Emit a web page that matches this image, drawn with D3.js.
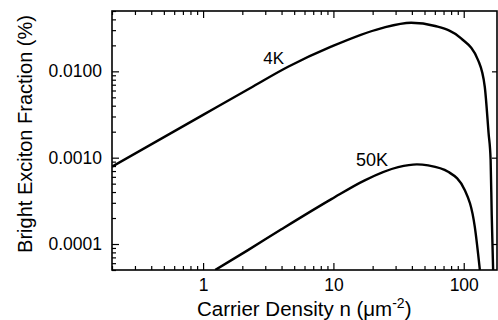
<!DOCTYPE html>
<html>
<head>
<meta charset="utf-8">
<script src="https://cdn.jsdelivr.net/npm/d3@7"></script>
<style>
  html, body { margin: 0; padding: 0; background: #fff; }
  svg { display: block; font-family: "Liberation Sans", Arial, Helvetica, sans-serif; }
</style>
</head>
<body>
<svg id="chart" width="498" height="320"></svg>
<script>
// ---- data ----
const density4K  = [0.2, 1.0, 2.29, 4.49, 9.6, 23.2, 39.5, 60.3, 95.5, 128.8, 145, 155, 160.8, 164, 168.1];
const fraction4K = [7.85e-4, 3.13e-3, 6.37e-3, 0.0113, 0.0193, 0.0315, 0.0366, 0.0335, 0.0241, 0.0135, 6.63e-3, 1.95e-3, 9.4e-4, 2.16e-4, 5e-5];
const density50K  = [1.24, 2.21, 3.99, 9.65, 17.4, 31.4, 43.7, 53.3, 75.9, 102, 121.6, 133];
const fraction50K = [5e-5, 8.5e-5, 1.48e-4, 3.31e-4, 5.47e-4, 7.76e-4, 8.36e-4, 8.13e-4, 6.87e-4, 4.2e-4, 1.58e-4, 5e-5];
const seriesLabels = ["4K", "50K"];
const xMajorTicks = [1, 10, 100];
const xTickLabels = ["1", "10", "100"];
const yMajorTicks = [0.0001, 0.001, 0.01];
const yTickLabels = ["0.0001", "0.0010", "0.0100"];
const xDomain = [0.2, 180];
const yDomain = [5e-5, 0.05];

// ---- layout ----
const svg = d3.select("#chart");
const m = { left: 112, top: 11, right: 1, bottom: 50 };
const W = 498, H = 320;
const iw = W - m.left - m.right, ih = H - m.top - m.bottom;
const g = svg.append("g").attr("transform", `translate(${m.left},${m.top})`);

const x = d3.scaleLog().domain(xDomain).range([0, iw]);
const y = d3.scaleLog().domain(yDomain).range([ih, 0]);

const isMajor = v => Math.abs(Math.log10(v) - Math.round(Math.log10(v))) < 1e-9;
const xMinor = x.ticks().filter(v => !isMajor(v));
const yMinor = y.ticks().filter(v => !isMajor(v));

const FS = 17.5;

function styleAxis(sel) {
  sel.select(".domain").remove();
  sel.selectAll("line").attr("stroke", "#000").attr("stroke-width", 1.2);
  sel.selectAll("text").attr("font-size", FS).attr("fill", "#000")
     .attr("font-family", '"Liberation Sans", Arial, Helvetica, sans-serif');
}

// bottom
g.append("g").attr("transform", `translate(0,${ih})`)
  .call(d3.axisBottom(x).tickValues(xMinor).tickSize(-4).tickFormat("")).call(styleAxis);
g.append("g").attr("transform", `translate(0,${ih})`)
  .call(d3.axisBottom(x).tickValues(xMajorTicks).tickSize(-7).tickPadding(9)
        .tickFormat((d, i) => xTickLabels[i])).call(styleAxis);
// top
g.append("g")
  .call(d3.axisTop(x).tickValues(xMinor).tickSize(-4).tickFormat("")).call(styleAxis);
g.append("g")
  .call(d3.axisTop(x).tickValues(xMajorTicks).tickSize(-7).tickFormat("")).call(styleAxis);
// left
g.append("g")
  .call(d3.axisLeft(y).tickValues(yMinor).tickSize(-4).tickFormat("")).call(styleAxis);
g.append("g")
  .call(d3.axisLeft(y).tickValues(yMajorTicks).tickSize(-7).tickPadding(10)
        .tickFormat((d, i) => yTickLabels[i])).call(styleAxis);
// right (major only)
g.append("g").attr("transform", `translate(${iw},0)`)
  .call(d3.axisRight(y).tickValues(yMajorTicks).tickSize(-5).tickFormat("")).call(styleAxis);

// frame
g.append("rect").attr("x", 0).attr("y", 0).attr("width", iw).attr("height", ih)
  .attr("fill", "none").attr("stroke", "#000").attr("stroke-width", 1.6);

// clip
g.append("clipPath").attr("id", "clip").append("rect").attr("width", iw).attr("height", ih);

const line = d3.line().x(d => x(d[0])).y(d => y(d[1])).curve(d3.curveMonotoneX);
const s4 = density4K.map((n, i) => [n, fraction4K[i]]);
const s50 = density50K.map((n, i) => [n, fraction50K[i]]);

g.append("g").attr("clip-path", "url(#clip)").selectAll("path").data([s4, s50]).join("path")
  .attr("d", line).attr("fill", "none").attr("stroke", "#000").attr("stroke-width", 2.4)
  .attr("stroke-linejoin", "round");

// series labels
g.append("text").attr("x", x(2.9)).attr("y", y(0.0121)).attr("font-size", 17).text(seriesLabels[0]);
g.append("text").attr("x", x(14.9)).attr("y", y(8.0e-4)).attr("font-size", 18).text(seriesLabels[1]);

// axis titles
svg.append("text").attr("transform", `translate(31.5,${134}) rotate(-90)`)
  .attr("text-anchor", "middle").attr("font-size", 20).text("Bright Exciton Fraction (%)");

const xt = svg.append("text").attr("x", 197).attr("y", 316).attr("font-size", 20.5);
xt.append("tspan").text("Carrier Density n (\u03bcm");
xt.append("tspan").attr("dy", -8).attr("font-size", 14).text("-2");
xt.append("tspan").attr("dy", 8).text(")");
</script>
</body>
</html>
